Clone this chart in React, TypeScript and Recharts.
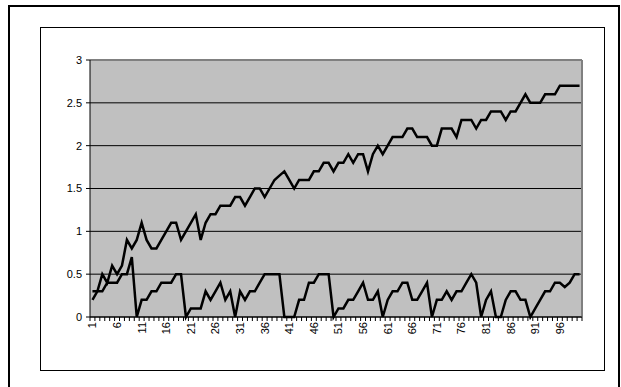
import React from "react";
import {
  LineChart,
  Line,
  XAxis,
  YAxis,
  CartesianGrid,
  ReferenceLine,
} from "recharts";

// categories 1..100
const categories = Array.from({ length: 100 }, (_, i) => i + 1);

const upper = [
  0.2, 0.3, 0.5, 0.4, 0.6, 0.5, 0.6, 0.9, 0.8, 0.9,
  1.1, 0.9, 0.8, 0.8, 0.9, 1.0, 1.1, 1.1, 0.9, 1.0,
  1.1, 1.2, 0.9, 1.1, 1.2, 1.2, 1.3, 1.3, 1.3, 1.4,
  1.4, 1.3, 1.4, 1.5, 1.5, 1.4, 1.5, 1.6, 1.65, 1.7,
  1.6, 1.5, 1.6, 1.6, 1.6, 1.7, 1.7, 1.8, 1.8, 1.7,
  1.8, 1.8, 1.9, 1.8, 1.9, 1.9, 1.7, 1.9, 2.0, 1.9,
  2.0, 2.1, 2.1, 2.1, 2.2, 2.2, 2.1, 2.1, 2.1, 2.0,
  2.0, 2.2, 2.2, 2.2, 2.1, 2.3, 2.3, 2.3, 2.2, 2.3,
  2.3, 2.4, 2.4, 2.4, 2.3, 2.4, 2.4, 2.5, 2.6, 2.5,
  2.5, 2.5, 2.6, 2.6, 2.6, 2.7, 2.7, 2.7, 2.7, 2.7,
];

const lower = [
  0.3, 0.3, 0.3, 0.4, 0.4, 0.4, 0.5, 0.5, 0.7, 0,
  0.2, 0.2, 0.3, 0.3, 0.4, 0.4, 0.4, 0.5, 0.5, 0,
  0.1, 0.1, 0.1, 0.3, 0.2, 0.3, 0.4, 0.2, 0.3, 0,
  0.3, 0.2, 0.3, 0.3, 0.4, 0.5, 0.5, 0.5, 0.5, 0,
  0, 0, 0.2, 0.2, 0.4, 0.4, 0.5, 0.5, 0.5, 0,
  0.1, 0.1, 0.2, 0.2, 0.3, 0.4, 0.2, 0.2, 0.3, 0,
  0.2, 0.3, 0.3, 0.4, 0.4, 0.2, 0.2, 0.3, 0.4, 0,
  0.2, 0.2, 0.3, 0.2, 0.3, 0.3, 0.4, 0.5, 0.4, 0,
  0.2, 0.3, 0, 0, 0.2, 0.3, 0.3, 0.2, 0.2, 0,
  0.1, 0.2, 0.3, 0.3, 0.4, 0.4, 0.35, 0.4, 0.5, 0.5,
];

const yTicks = [0, 0.5, 1, 1.5, 2, 2.5, 3];
const labelEvery = 5;

const data = categories.map((c, i) => ({ cat: c, upper: upper[i], lower: lower[i] }));
// tick marks sit between categories (Excel "between tick marks")
const xTicks = [0.5, ...categories.map((c) => c + 0.5)];

const W = 621;
const H = 387;
const PLOT_LEFT = 90;
const PLOT_RIGHT = 582;
const PLOT_TOP = 60;
const PLOT_BOTTOM = 317;
const HALF = (PLOT_RIGHT - PLOT_LEFT) / categories.length / 2;
const FONT = "'Liberation Sans', Arial, sans-serif";

const XTick = (props: any) => {
  const { x, y, payload } = props;
  const cat = payload.value + 0.5;
  if (cat > categories.length || (cat - 1) % labelEvery !== 0) return <g />;
  const cx = x + HALF;
  const cy = y - 1;
  return (
    <text
      x={cx}
      y={cy}
      transform={`rotate(-90, ${cx}, ${cy})`}
      textAnchor="end"
      dominantBaseline="central"
      fontSize={11}
      fontFamily={FONT}
      fill="#000"
    >
      {cat}
    </text>
  );
};

export default function App() {
  return (
    <div
      style={{
        position: "fixed",
        left: 0,
        top: 0,
        width: W,
        height: H,
        overflow: "hidden",
        background: "#fff",
        fontFamily: FONT,
      }}
    >
      <div style={{ position: "absolute", left: 0, top: 0 }}>
        <LineChart
          width={W}
          height={H}
          data={data}
          margin={{ top: PLOT_TOP, right: W - PLOT_RIGHT, left: PLOT_LEFT - 40, bottom: H - PLOT_BOTTOM - 40 }}
        >
          <CartesianGrid
            vertical={false}
            stroke="#000"
            strokeWidth={1}
            fill="#c0c0c0"
            fillOpacity={1}
          />
          <XAxis
            dataKey="cat"
            type="number"
            domain={[0.5, categories.length + 0.5]}
            ticks={xTicks}
            interval={0}
            height={40}
            tickSize={4}
            tickMargin={2}
            axisLine={{ stroke: "#000", strokeWidth: 1 }}
            tickLine={{ stroke: "#000" }}
            tick={<XTick />}
          />
          <YAxis
            type="number"
            domain={[0, 3]}
            ticks={yTicks}
            width={40}
            tickSize={4}
            tickMargin={4}
            axisLine={{ stroke: "#000", strokeWidth: 1 }}
            tickLine={{ stroke: "#000" }}
            tick={{ fontSize: 11, fill: "#000", fontFamily: FONT }}
          />
          <ReferenceLine y={3} stroke="#808080" strokeWidth={2} />
          <ReferenceLine x={categories.length + 0.5} stroke="#808080" strokeWidth={2} />
          <Line
            type="linear"
            dataKey="upper"
            stroke="#000"
            strokeWidth={2.5}
            dot={false}
            isAnimationActive={false}
          />
          <Line
            type="linear"
            dataKey="lower"
            stroke="#000"
            strokeWidth={2.5}
            dot={false}
            isAnimationActive={false}
          />
        </LineChart>
      </div>
      {/* outer frame and chart-area box */}
      <svg
        width={W}
        height={H}
        style={{ position: "absolute", left: 0, top: 0, pointerEvents: "none" }}
      >
        <rect x={9} y={6} width={610} height={400} fill="none" stroke="#000" strokeWidth={2} />
        <rect x={40.5} y={27.5} width={564} height={343} fill="none" stroke="#000" strokeWidth={1} />
      </svg>
    </div>
  );
}
